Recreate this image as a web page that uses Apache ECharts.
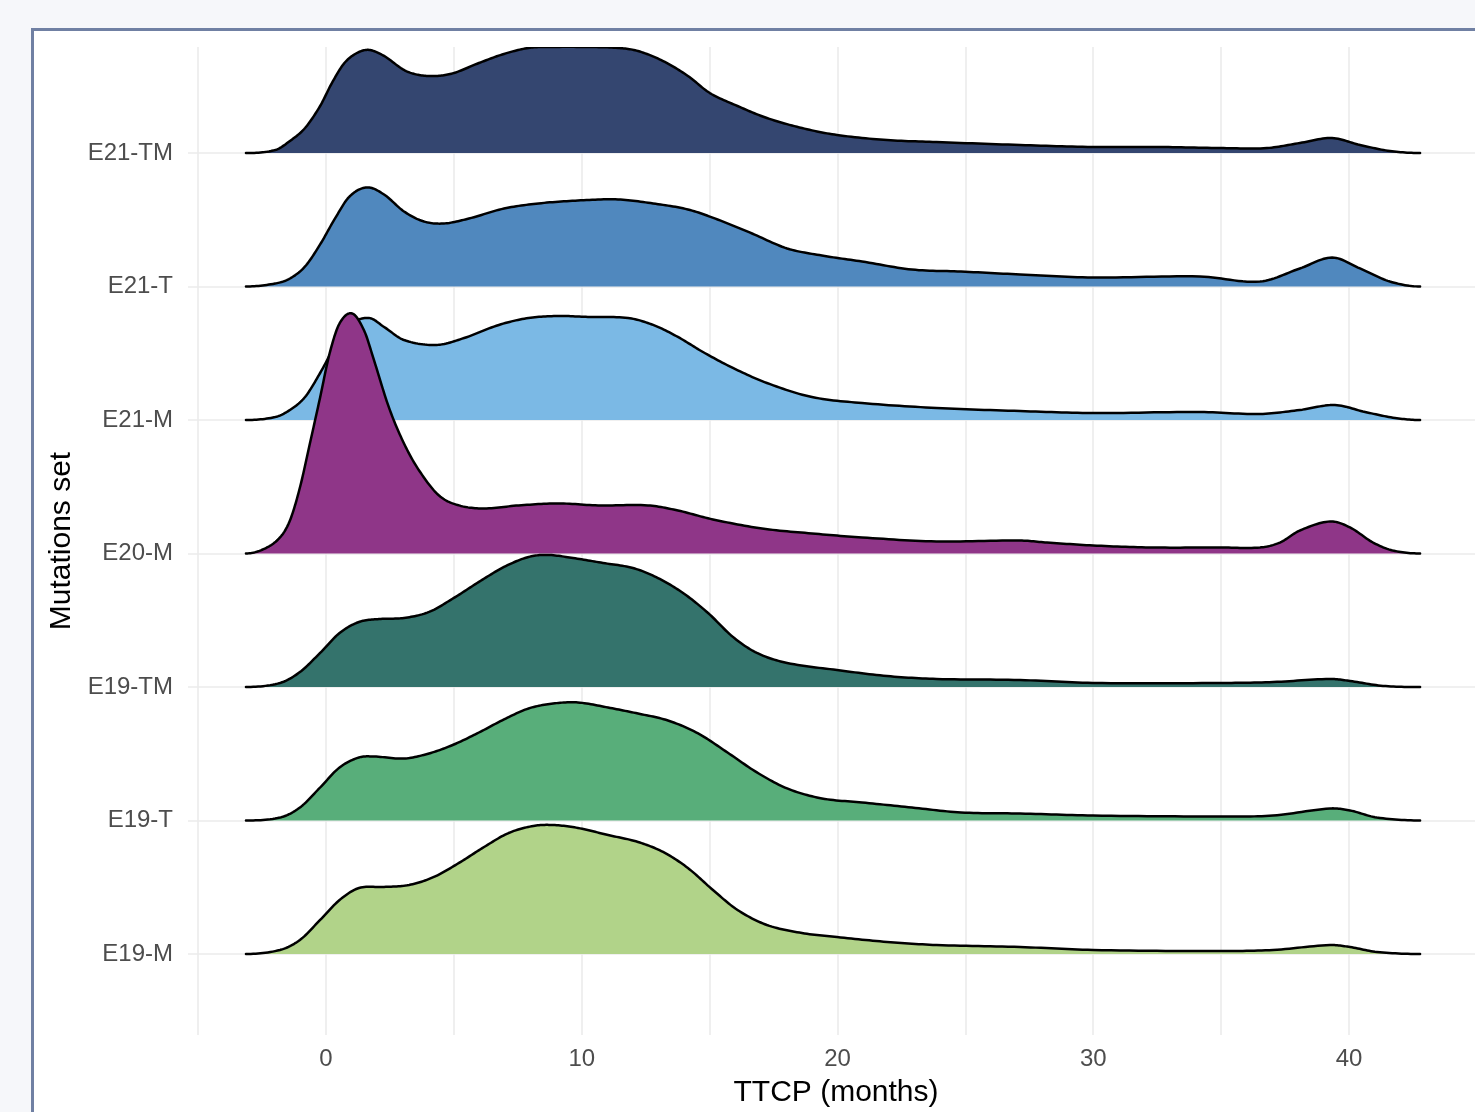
<!DOCTYPE html>
<html>
<head>
<meta charset="utf-8">
<script src="https://cdn.jsdelivr.net/npm/echarts@6/dist/echarts.min.js"></script>
<style>
html, body { margin: 0; padding: 0; background: #f6f7fa; overflow: hidden; }
#frame { position: absolute; left: 31px; top: 28px; width: 1520px; height: 1150px;
         border: 3px solid #7080a3; background: #ffffff; box-sizing: border-box; }
#chart { position: absolute; left: 0; top: 0; width: 1475px; height: 1112px; }
</style>
</head>
<body>
<div id="frame"></div>
<div id="chart"></div>
<script>
// Rows from bottom (0) to top (6)
const categories = ['E19-M', 'E19-T', 'E19-TM', 'E20-M', 'E21-M', 'E21-T', 'E21-TM'];
const xTickLabels = [0, 10, 20, 30, 40];
const xGridValues = [-5, 0, 5, 10, 15, 20, 25, 30, 35, 40, 45];
const yRowValues = [0, 1, 2, 3, 4, 5, 6];

// Scaled density heights (1 = one row spacing)
const xE21TM = [-3.13,-1.99,-1.41,-0.82,-0.23,0.23,0.72,1.21,1.68,2.27,3.05,3.64,4.32,5.00,5.98,6.96,7.92,8.68,10.24,11.42,12.20,13.18,14.15,15.01,16.09,17.24,18.61,19.98,21.94,23.87,27.14,29.99,32.61,34.96,36.79,38.08,39.34,40.43,41.60,42.78];
const hE21TM = [0,.022,.090,.187,.352,.524,.674,.749,.772,.727,.622,.584,.577,.599,.674,.742,.787,.794,.794,.787,.764,.689,.577,.449,.352,.262,.187,.135,.097,.082,.060,.045,.045,.037,.037,.075,.112,.060,.015,0];

const xE21T = [-3.13,-1.99,-1.41,-0.82,-0.23,0.33,0.92,1.60,2.27,3.05,3.83,4.61,5.59,6.96,8.31,9.85,11.42,12.79,14.15,15.31,16.66,18.03,19.39,20.96,22.91,24.83,27.14,29.99,34.17,36.52,38.08,39.34,40.43,41.60,42.78];
const hE21T = [0,.022,.060,.150,.315,.502,.674,.742,.689,.562,.487,.472,.509,.584,.622,.644,.652,.622,.577,.502,.397,.285,.232,.187,.127,.112,.090,.067,.075,.037,.135,.217,.135,.037,0];

const xE21M = [-3.13,-1.99,-1.41,-0.82,-0.23,0.33,0.92,1.68,2.27,3.05,4.32,5.40,6.76,7.92,9.07,10.24,11.81,12.79,13.76,14.74,15.91,17.24,19.00,20.96,23.87,27.14,29.99,34.17,36.52,38.08,39.45,40.63,41.80,42.78];
const hE21M = [0,.022,.075,.172,.352,.547,.712,.764,.697,.599,.562,.614,.712,.764,.779,.772,.764,.712,.622,.509,.390,.277,.172,.127,.090,.067,.052,.060,.045,.075,.112,.060,.015,0];

const xE20M = [-3.13,-2.39,-1.80,-1.41,-1.02,-0.63,-0.23,0.14,0.53,1.02,1.49,1.88,2.46,3.05,3.64,4.42,5.20,6.18,7.53,9.07,10.64,12.59,13.76,15.13,17.05,19.00,20.96,23.87,27.14,28.19,29.99,32.22,34.96,36.52,37.30,38.08,39.26,40.04,40.94,41.72,42.78];
const hE20M = [0,.037,.120,.247,.494,.824,1.169,1.498,1.723,1.798,1.670,1.446,1.094,.824,.622,.434,.360,.337,.360,.375,.360,.360,.322,.255,.187,.150,.120,.090,.097,.082,.060,.045,.045,.045,.082,.172,.240,.195,.082,.022,0];

const xE19TM = [-3.13,-1.80,-1.02,-0.23,0.53,1.29,2.07,3.05,4.03,5.00,5.98,6.96,7.92,8.68,9.66,10.83,12.00,12.98,13.96,14.94,15.91,16.85,18.03,19.98,21.94,23.87,27.14,29.99,34.96,37.03,39.26,40.04,41.33,42.78];
const hE19TM = [0,.030,.112,.255,.404,.487,.509,.517,.562,.667,.787,.899,.974,.989,.966,.929,.891,.816,.704,.554,.375,.255,.180,.127,.082,.060,.052,.030,.030,.037,.060,.045,.008,0];

const xE19T = [-3.13,-1.80,-1.02,-0.23,0.53,1.29,1.88,3.05,4.03,5.00,5.98,6.96,7.92,8.88,9.85,11.03,12.20,13.37,14.55,15.70,16.85,18.03,19.39,20.96,22.91,24.83,27.14,29.99,34.96,37.03,39.26,40.04,41.09,42.78];
const hE19T = [0,.022,.097,.247,.397,.472,.479,.464,.502,.569,.659,.757,.839,.876,.884,.846,.801,.749,.652,.509,.360,.240,.165,.135,.097,.060,.052,.037,.030,.037,.090,.075,.022,0];

const xE19M = [-3.13,-1.80,-1.02,-0.23,0.53,1.29,2.27,3.25,4.22,5.20,6.18,7.14,8.11,8.88,9.85,11.03,12.20,13.18,14.15,15.13,16.09,17.24,18.61,19.98,21.94,23.87,27.14,29.99,34.96,37.03,39.26,40.04,41.09,42.78];
const hE19M = [0,.030,.105,.255,.404,.494,.502,.517,.577,.682,.801,.906,.959,.966,.944,.891,.839,.764,.644,.479,.330,.217,.157,.127,.090,.067,.052,.030,.022,.030,.067,.052,.015,0];

const fillColors = ['#b1d389', '#58ae7a', '#34736c', '#8f3688', '#7bb9e5', '#5088be', '#344670'];

const FONT = 'Liberation Sans, Arial, Helvetica, sans-serif';

// Smooth rendering of the outline through the read points (cubic Hermite, Catmull-Rom slopes, pixel space)
function smoothPath(P, steps) {
  const N = P.length, m = new Array(N).fill(0);
  for (let i = 1; i < N - 1; i++) m[i] = (P[i + 1][1] - P[i - 1][1]) / (P[i + 1][0] - P[i - 1][0]);
  const out = [];
  for (let i = 0; i < N - 1; i++) {
    const x0 = P[i][0], y0 = P[i][1], x1 = P[i + 1][0], y1 = P[i + 1][1], h = x1 - x0;
    for (let k = 0; k < steps; k++) {
      const t = k / steps, t2 = t * t, t3 = t2 * t;
      const h00 = 2 * t3 - 3 * t2 + 1, h10 = t3 - 2 * t2 + t, h01 = -2 * t3 + 3 * t2, h11 = t3 - t2;
      out.push([x0 + t * h, h00 * y0 + h10 * h * m[i] + h01 * y1 + h11 * h * m[i + 1]]);
    }
  }
  out.push(P[N - 1]);
  return out;
}

function ridge(row, xs, hs) {
  const data = xs.map((x, k) => [x, row + hs[k]]);
  return {
    type: 'custom',
    name: categories[row],
    coordinateSystem: 'cartesian2d',
    clip: true,
    silent: true,
    data: data,
    encode: { x: 0, y: 1 },
    renderItem: function (params, api) {
      if (params.dataIndex !== 0) return null;
      const base = api.coord([xs[0], row])[1];
      const pts = smoothPath(data.map(d => api.coord(d)), 14).map(p => [p[0], Math.min(p[1], base)]);
      return {
        type: 'group',
        children: [
          { type: 'polygon', shape: { points: pts },
            style: { fill: fillColors[row], stroke: null } },
          { type: 'polyline', shape: { points: pts },
            style: { fill: 'none', stroke: '#000000', lineWidth: 2.5, lineJoin: 'round', lineCap: 'round' } }
        ]
      };
    }
  };
}

const chart = echarts.init(document.getElementById('chart'), null, { renderer: 'canvas' });
chart.setOption({
  backgroundColor: 'transparent',
  animation: false,
  grid: { left: 188, right: -9, top: 47, bottom: 77, containLabel: false, outerBoundsMode: 'none' },
  xAxis: {
    type: 'value',
    min: -5.396, max: 45.279,
    axisLine: { show: false },
    axisTick: { show: false, customValues: xGridValues },
    axisLabel: { customValues: xTickLabels, fontSize: 24, color: '#4d4d4d', margin: 12, fontFamily: FONT },
    splitLine: { show: true, lineStyle: { color: '#ebebeb', width: 1.6 } },
    name: 'TTCP (months)',
    nameLocation: 'middle',
    nameGap: 43,
    nameTextStyle: { fontSize: 30, color: '#000000', fontFamily: FONT }
  },
  yAxis: {
    type: 'value',
    min: -0.607, max: 6.794,
    axisLine: { show: false },
    axisTick: { show: false, customValues: yRowValues },
    axisLabel: { customValues: yRowValues, fontSize: 24, color: '#4d4d4d', margin: 15, fontFamily: FONT,
                 formatter: v => categories[Math.round(v)] },
    splitLine: { show: true, lineStyle: { color: '#ebebeb', width: 1.6 } },
    name: 'Mutations set',
    nameLocation: 'middle',
    nameGap: 110,
    nameTextStyle: { fontSize: 30, color: '#000000', fontFamily: FONT }
  },
  series: [
    ridge(6, xE21TM, hE21TM),
    ridge(5, xE21T, hE21T),
    ridge(4, xE21M, hE21M),
    ridge(3, xE20M, hE20M),
    ridge(2, xE19TM, hE19TM),
    ridge(1, xE19T, hE19T),
    ridge(0, xE19M, hE19M)
  ]
});
</script>
</body>
</html>
